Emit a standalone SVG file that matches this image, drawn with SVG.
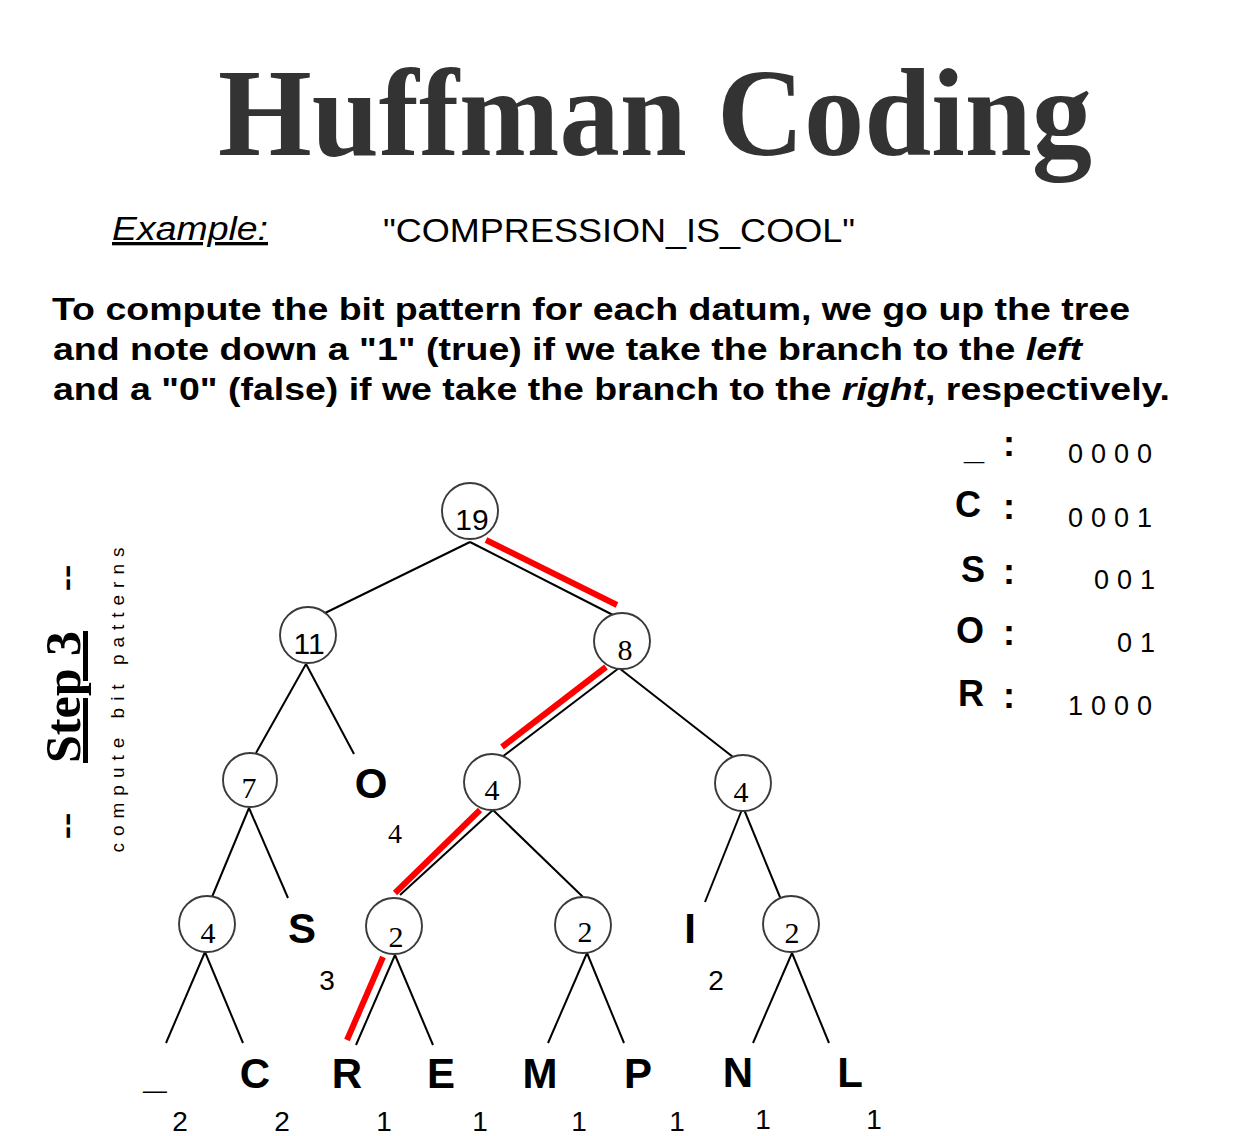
<svg xmlns="http://www.w3.org/2000/svg" width="1254" height="1136" viewBox="0 0 1254 1136">
<style>
.node circle{fill:#fff;stroke:#3a3a3a;stroke-width:1.9}
.num{font-family:"Liberation Serif",serif;font-size:30px;fill:#000;text-anchor:middle}
.nums{font-family:"Liberation Sans",sans-serif;font-size:30px;fill:#000;text-anchor:middle}
.leaf{font-family:"Liberation Sans",sans-serif;font-weight:bold;font-size:42px;fill:#000;text-anchor:middle}
.cnt{font-family:"Liberation Sans",sans-serif;font-size:28px;fill:#000;text-anchor:middle}
.cnts{font-family:"Liberation Serif",serif;font-size:28px;fill:#000;text-anchor:middle}
.edges line{stroke:#000;stroke-width:2}
.edges .hl{stroke:#ff0000;stroke-width:6}
.para{font-family:"Liberation Sans",sans-serif;font-weight:bold;font-size:31px;fill:#000}
.code{font-family:"Liberation Sans",sans-serif;font-size:27px;fill:#000;letter-spacing:8px}
.key{font-family:"Liberation Sans",sans-serif;font-weight:bold;font-size:36px;fill:#000}
</style>
<rect width="1254" height="1136" fill="#fff"/>
<g id="title">
<text x="218" y="155" font-family="Liberation Serif,serif" font-weight="bold" font-size="124" fill="#333" textLength="874" lengthAdjust="spacingAndGlyphs">Huffman Coding</text>
</g>
<g id="example">
<text x="112" y="240" font-family="Liberation Sans,sans-serif" font-style="italic" font-size="33" text-decoration="underline" textLength="156" lengthAdjust="spacingAndGlyphs">Example:</text>
<text x="383" y="242" font-family="Liberation Sans,sans-serif" font-size="33" textLength="472" lengthAdjust="spacingAndGlyphs">"COMPRESSION_IS_COOL"</text>
</g>
<g id="paragraph">
<text class="para" x="52" y="320" textLength="1078" lengthAdjust="spacingAndGlyphs">To compute the bit pattern for each datum, we go up the tree</text>
<text class="para" x="53" y="360" textLength="1029" lengthAdjust="spacingAndGlyphs">and note down a "1" (true) if we take the branch to the <tspan font-style="italic">left</tspan></text>
<text class="para" x="53" y="400" textLength="1117" lengthAdjust="spacingAndGlyphs">and a "0" (false) if we take the branch to the <tspan font-style="italic">right</tspan>, respectively.</text>
</g>
<g id="step">
<text transform="translate(78,826) rotate(-90)" font-family="Liberation Serif,serif" font-weight="bold" font-size="40" text-anchor="middle">--</text>
<text transform="translate(80,697) rotate(-90)" font-family="Liberation Serif,serif" font-weight="bold" font-size="50" text-anchor="middle" text-decoration="underline">Step 3</text>
<text transform="translate(78,578) rotate(-90)" font-family="Liberation Serif,serif" font-weight="bold" font-size="40" text-anchor="middle">--</text>
<text transform="translate(124,700) rotate(-90)" font-family="Liberation Sans,sans-serif" font-size="19" text-anchor="middle" textLength="305" lengthAdjust="spacing">compute bit patterns</text>
</g>
<g id="codes">
<text class="key" x="964" y="459">_</text><text class="key" x="1003" y="456">:</text><text class="code" x="1068" y="463">0000</text>
<text class="key" x="955" y="517">C</text><text class="key" x="1003" y="519">:</text><text class="code" x="1068" y="527">0001</text>
<text class="key" x="961" y="582">S</text><text class="key" x="1003" y="584">:</text><text class="code" x="1094" y="589">001</text>
<text class="key" x="956" y="643">O</text><text class="key" x="1003" y="645">:</text><text class="code" x="1117" y="652">01</text>
<text class="key" x="958" y="706">R</text><text class="key" x="1003" y="708">:</text><text class="code" x="1068" y="715">1000</text>
</g>
<g id="connectors" class="edges">
<line x1="470" y1="542" x2="323" y2="614"/>
<line x1="470" y1="542" x2="613" y2="615"/>
<line class="hl" x1="486" y1="540" x2="617" y2="605"/>
<line x1="306" y1="664" x2="256" y2="753"/>
<line x1="306" y1="664" x2="354" y2="754"/>
<line x1="619" y1="668" x2="502" y2="757"/>
<line class="hl" x1="606" y1="667" x2="502" y2="747"/>
<line x1="619" y1="668" x2="733" y2="757"/>
<line x1="249" y1="808" x2="212" y2="897"/>
<line x1="249" y1="808" x2="288" y2="898"/>
<line x1="493" y1="810" x2="400" y2="895"/>
<line class="hl" x1="480" y1="810" x2="395" y2="893"/>
<line x1="493" y1="810" x2="583" y2="897"/>
<line x1="743" y1="807" x2="705" y2="902"/>
<line x1="743" y1="807" x2="782" y2="902"/>
<line x1="205" y1="952" x2="166" y2="1043"/>
<line x1="205" y1="952" x2="243" y2="1043"/>
<line x1="395" y1="955" x2="356" y2="1045"/>
<line class="hl" x1="383" y1="957" x2="347" y2="1040"/>
<line x1="395" y1="955" x2="433" y2="1045"/>
<line x1="587" y1="953" x2="548" y2="1043"/>
<line x1="587" y1="953" x2="624" y2="1043"/>
<line x1="792" y1="953" x2="753" y2="1043"/>
<line x1="792" y1="953" x2="829" y2="1043"/>
</g>
<g id="n19" class="node"><circle cx="470" cy="511" r="28"/><text class="nums" x="472" y="530">19</text></g>
<g id="n11" class="node"><circle cx="308" cy="635" r="28"/><text class="nums" x="309" y="654">11</text></g>
<g id="n8" class="node"><circle cx="622" cy="641" r="28"/><text class="num" x="625" y="660">8</text></g>
<g id="n7" class="node"><circle cx="250" cy="780" r="27"/><text class="num" x="249" y="798">7</text></g>
<g id="n4m" class="node"><circle cx="492" cy="782" r="28"/><text class="num" x="492" y="800">4</text></g>
<g id="n4r" class="node"><circle cx="743" cy="783" r="28"/><text class="num" x="741" y="802">4</text></g>
<g id="n4bl" class="node"><circle cx="207" cy="924" r="28"/><text class="num" x="208" y="943">4</text></g>
<g id="n2re" class="node"><circle cx="394" cy="926" r="28"/><text class="num" x="396" y="947">2</text></g>
<g id="n2mp" class="node"><circle cx="583" cy="925" r="28"/><text class="num" x="585" y="942">2</text></g>
<g id="n2nl" class="node"><circle cx="791" cy="924" r="28"/><text class="num" x="792" y="943">2</text></g>
<g id="leafO"><text class="leaf" x="371" y="798">O</text><text class="cnts" x="395" y="843">4</text></g>
<g id="leafS"><text class="leaf" x="302" y="943">S</text><text class="cnt" x="327" y="990">3</text></g>
<g id="leafI"><text class="leaf" x="690" y="943">I</text><text class="cnt" x="716" y="990">2</text></g>
<g id="leaf_"><text class="leaf" x="155" y="1088">_</text><text class="cnt" x="180" y="1131">2</text></g>
<g id="leafC"><text class="leaf" x="255" y="1088">C</text><text class="cnt" x="282" y="1131">2</text></g>
<g id="leafR"><text class="leaf" x="347" y="1088">R</text><text class="cnt" x="384" y="1131">1</text></g>
<g id="leafE"><text class="leaf" x="441" y="1088">E</text><text class="cnt" x="480" y="1131">1</text></g>
<g id="leafM"><text class="leaf" x="540" y="1088">M</text><text class="cnt" x="579" y="1131">1</text></g>
<g id="leafP"><text class="leaf" x="638" y="1088">P</text><text class="cnt" x="677" y="1131">1</text></g>
<g id="leafN"><text class="leaf" x="738" y="1087">N</text><text class="cnt" x="763" y="1129">1</text></g>
<g id="leafL"><text class="leaf" x="850" y="1087">L</text><text class="cnt" x="874" y="1129">1</text></g>
</svg>
